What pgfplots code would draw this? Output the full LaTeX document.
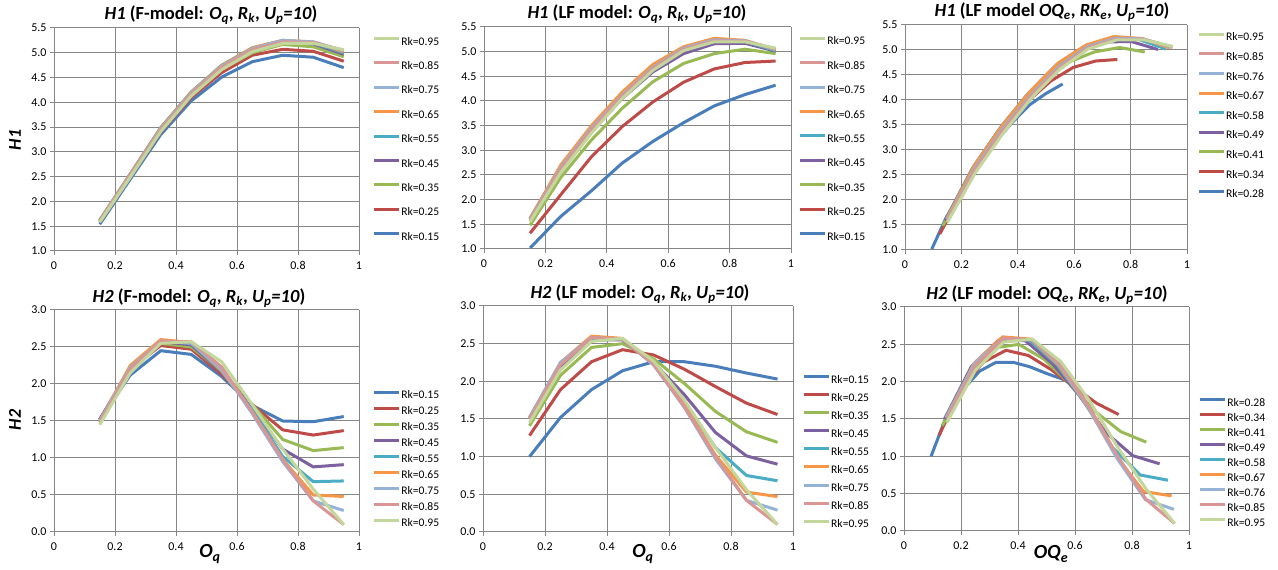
\documentclass[border=0pt]{standalone}
\usepackage{fontspec}
\setmainfont{Carlito}
\usepackage{pgfplots}
\usepackage{pgfplotstable}
\pgfplotsset{compat=1.18}

\definecolor{c1}{RGB}{74,126,187}
\definecolor{c2}{RGB}{190,75,72}
\definecolor{c3}{RGB}{152,185,84}
\definecolor{c4}{RGB}{125,96,160}
\definecolor{c5}{RGB}{75,172,198}
\definecolor{c6}{RGB}{247,150,70}
\definecolor{c7}{RGB}{149,179,215}
\definecolor{c8}{RGB}{217,150,148}
\definecolor{c9}{RGB}{195,214,155}
\definecolor{gridgray}{RGB}{134,134,134}

% F-model: a = H1, b = H2
\pgfplotstableread{
oq   a1   a2   a3   a4   a5   a6   a7   a8   a9   b1   b2   b3   b4   b5   b6   b7   b8   b9
0.15 1.54 1.58 1.60 1.62 1.62 1.62 1.61 1.60 1.58 1.52 1.52 1.50 1.52 1.50 1.50 1.50 1.48 1.45
0.25 2.45 2.50 2.52 2.55 2.55 2.55 2.53 2.52 2.49 2.12 2.20 2.20 2.22 2.22 2.25 2.22 2.20 2.15
0.35 3.35 3.40 3.45 3.48 3.49 3.48 3.46 3.44 3.41 2.45 2.52 2.55 2.57 2.58 2.60 2.58 2.58 2.55
0.45 4.03 4.10 4.15 4.20 4.21 4.20 4.18 4.16 4.13 2.40 2.47 2.50 2.53 2.55 2.56 2.55 2.57 2.57
0.55 4.51 4.60 4.67 4.73 4.75 4.74 4.72 4.70 4.66 2.10 2.13 2.17 2.16 2.17 2.18 2.20 2.23 2.30
0.65 4.82 4.95 5.00 5.08 5.10 5.10 5.08 5.06 5.02 1.71 1.72 1.72 1.68 1.65 1.62 1.60 1.62 1.72
0.75 4.95 5.07 5.17 5.22 5.25 5.25 5.25 5.22 5.19 1.50 1.38 1.25 1.12 1.02 0.98 0.95 0.98 1.12
0.85 4.91 5.03 5.12 5.18 5.20 5.22 5.22 5.21 5.19 1.49 1.31 1.10 0.88 0.68 0.50 0.42 0.42 0.58
0.95 4.70 4.83 4.92 4.97 5.00 5.02 5.04 5.05 5.06 1.56 1.37 1.14 0.91 0.69 0.48 0.29 0.10 0.10
}\F

% LF model: e = OQe, a = H1, b = H2
\pgfplotstableread{
oq   e1    e2    e3    e4    e5    e6    e7    e8    e9    a1   a2   a3   a4   a5   a6   a7   a8   a9   b1   b2   b3   b4   b5   b6   b7   b8   b9
0.15 0.095 0.123 0.134 0.142 0.146 0.148 0.150 0.150 0.150 1.02 1.32 1.48 1.59 1.62 1.62 1.60 1.58 1.55 1.00 1.28 1.41 1.50 1.52 1.52 1.52 1.50 1.45
0.25 0.147 0.199 0.224 0.236 0.244 0.247 0.249 0.250 0.250 1.66 2.10 2.45 2.60 2.68 2.70 2.65 2.62 2.55 1.52 1.89 2.08 2.20 2.23 2.25 2.25 2.22 2.15
0.35 0.206 0.278 0.313 0.330 0.341 0.346 0.349 0.350 0.350 2.18 2.87 3.21 3.38 3.47 3.50 3.45 3.42 3.35 1.89 2.26 2.45 2.55 2.57 2.60 2.58 2.58 2.53
0.45 0.265 0.358 0.403 0.425 0.439 0.445 0.449 0.450 0.450 2.74 3.48 3.85 4.05 4.14 4.18 4.12 4.10 4.05 2.14 2.42 2.50 2.55 2.56 2.57 2.56 2.56 2.57
0.55 0.323 0.437 0.492 0.519 0.536 0.543 0.548 0.550 0.550 3.18 3.98 4.39 4.59 4.70 4.74 4.68 4.66 4.62 2.26 2.35 2.30 2.25 2.23 2.22 2.22 2.23 2.27
0.65 0.382 0.517 0.582 0.614 0.634 0.642 0.648 0.650 0.650 3.56 4.38 4.76 4.96 5.06 5.10 5.07 5.05 5.02 2.26 2.16 1.97 1.82 1.72 1.68 1.65 1.66 1.75
0.75 0.441 0.596 0.671 0.708 0.731 0.741 0.748 0.750 0.750 3.90 4.65 4.96 5.16 5.24 5.27 5.24 5.22 5.20 2.20 1.93 1.60 1.32 1.12 1.02 0.97 1.00 1.12
0.85 0.500 0.676 0.761 0.802 0.829 0.840 0.847 0.850 0.850 4.13 4.78 5.05 5.17 5.21 5.23 5.22 5.21 5.20 2.11 1.71 1.33 1.01 0.75 0.53 0.42 0.42 0.56
0.95 0.559 0.753 0.850 0.897 0.926 0.939 0.947 0.950 0.950 4.32 4.81 4.96 5.01 5.02 5.04 5.05 5.06 5.07 2.03 1.56 1.19 0.90 0.68 0.47 0.29 0.10 0.10
}\LF

\pgfplotscreateplotcyclelist{xl}{{c1},{c2},{c3},{c4},{c5},{c6},{c7},{c8},{c9}}

\pgfplotsset{
  panel/.style={
    scale only axis, xmin=0, xmax=1, xtick={0,0.2,0.4,0.6,0.8,1},
    axis lines=left, axis line style={gridgray, line width=1pt, -},
    grid=major, grid style={gridgray, line width=1pt},
    tick align=outside, major tick length=4pt, tick style={gridgray, line width=1pt},
    ticklabel style={font=\fontsize{12}{14}\selectfont},
    xticklabel style={yshift=-3pt, /pgf/number format/.cd, fixed, precision=1, assume math mode=true},
    yticklabel style={/pgf/number format/.cd, fixed, fixed zerofill, precision=1, assume math mode=true},
    cycle list name=xl,
    every axis plot/.append style={line width=3pt, line join=round, mark=none},
    legend image code/.code={\draw[##1] (0pt,3.8pt) -- (25pt,3.8pt);},
    legend cell align=left,
    legend style={draw=none, fill=none, inner sep=0pt, column sep=0pt,
      font=\fontsize{11.6}{13}\selectfont,
      nodes={inner sep=1pt, text height=8pt, text depth=2.5pt}},
  },
  toprow/.style={panel, ymin=1, ymax=5.5, ytick={1,1.5,2,2.5,3,3.5,4,4.5,5,5.5}, reverse legend},
  botrow/.style={panel, ymin=0, ymax=3, ytick={0,0.5,1,1.5,2,2.5,3}},
}

\newcommand{\tfont}{\fontsize{18.5}{20}\selectfont\bfseries}
\newcommand{\lfont}{\fontsize{20}{22}\selectfont\bfseries\itshape}

\begin{document}
\begin{tikzpicture}
\path[use as bounding box] (0,0) rectangle (1278pt,570pt);

% H1, F-model
\begin{axis}[toprow, at={(54pt,319pt)}, width=305pt, height=223pt,
  legend style={at={(1.043,0.965)}, anchor=north west, row sep=11.9pt}]
  \pgfplotsinvokeforeach{1,...,9}{\addplot table[x=oq, y=a#1]{\F};}
  \legend{Rk=0.15,Rk=0.25,Rk=0.35,Rk=0.45,Rk=0.55,Rk=0.65,Rk=0.75,Rk=0.85,Rk=0.95}
\end{axis}

% H1, LF model
\begin{axis}[toprow, at={(484pt,321pt)}, width=307pt, height=222pt,
  legend style={at={(1.023,0.961)}, anchor=north west, row sep=11.9pt}]
  \pgfplotsinvokeforeach{1,...,9}{\addplot table[x=oq, y=a#1]{\LF};}
  \legend{Rk=0.15,Rk=0.25,Rk=0.35,Rk=0.45,Rk=0.55,Rk=0.65,Rk=0.75,Rk=0.85,Rk=0.95}
\end{axis}

% H1, LF model OQe
\begin{axis}[toprow, at={(905pt,320pt)}, width=282pt, height=225pt,
  legend style={at={(1.035,0.970)}, anchor=north west, row sep=7.1pt}]
  \pgfplotsinvokeforeach{1,...,9}{\addplot table[x=e#1, y=a#1]{\LF};}
  \legend{Rk=0.28,Rk=0.34,Rk=0.41,Rk=0.49,Rk=0.58,Rk=0.67,Rk=0.76,Rk=0.85,Rk=0.95}
\end{axis}

% H2, F-model
\begin{axis}[botrow, at={(54pt,38pt)}, width=305pt, height=222pt,
  legend style={at={(1.043,0.641)}, anchor=north west, row sep=3.5pt}]
  \pgfplotsinvokeforeach{1,...,9}{\addplot table[x=oq, y=b#1]{\F};}
  \legend{Rk=0.15,Rk=0.25,Rk=0.35,Rk=0.45,Rk=0.55,Rk=0.65,Rk=0.75,Rk=0.85,Rk=0.95}
\end{axis}

% H2, LF model
\begin{axis}[botrow, at={(483pt,38pt)}, width=310pt, height=226pt,
  legend style={at={(1.029,0.700)}, anchor=north west, row sep=5.6pt}]
  \pgfplotsinvokeforeach{1,...,9}{\addplot table[x=oq, y=b#1]{\LF};}
  \legend{Rk=0.15,Rk=0.25,Rk=0.35,Rk=0.45,Rk=0.55,Rk=0.65,Rk=0.75,Rk=0.85,Rk=0.95}
\end{axis}

% H2, LF model OQe
\begin{axis}[botrow, at={(904pt,39pt)}, width=285pt, height=224pt,
  legend style={at={(1.032,0.599)}, anchor=north west, row sep=2.5pt}]
  \pgfplotsinvokeforeach{1,...,9}{\addplot table[x=e#1, y=b#1]{\LF};}
  \legend{Rk=0.28,Rk=0.34,Rk=0.41,Rk=0.49,Rk=0.58,Rk=0.67,Rk=0.76,Rk=0.85,Rk=0.95}
\end{axis}

% titles
\node at (211pt,555pt) {\tfont\textit{H1} (F-model: \textit{O\textsubscript{q}}, \textit{R\textsubscript{k}}, \textit{U\textsubscript{p}=10})};
\node at (637pt,556pt) {\tfont\textit{H1} (LF model: \textit{O\textsubscript{q}}, \textit{R\textsubscript{k}}, \textit{U\textsubscript{p}=10})};
\node at (1052pt,558pt) {\tfont\textit{H1} (LF model \textit{OQ\textsubscript{e}}, \textit{RK\textsubscript{e}}, \textit{U\textsubscript{p}=10})};
\node at (199pt,272pt) {\tfont\textit{H2} (F-model: \textit{O\textsubscript{q}}, \textit{R\textsubscript{k}}, \textit{U\textsubscript{p}=10})};
\node at (640pt,276pt) {\tfont\textit{H2} (LF model: \textit{O\textsubscript{q}}, \textit{R\textsubscript{k}}, \textit{U\textsubscript{p}=10})};
\node at (1047pt,275pt) {\tfont\textit{H2} (LF model: \textit{OQ\textsubscript{e}}, \textit{RK\textsubscript{e}}, \textit{U\textsubscript{p}=10})};

% axis labels
\node[rotate=90] at (15pt,430pt) {\fontsize{18}{20}\selectfont\bfseries\itshape H1};
\node[rotate=90] at (15pt,150pt) {\fontsize{18}{20}\selectfont\bfseries\itshape H2};
\node at (210pt,16pt) {\lfont O\textsubscript{q}};
\node at (643pt,16pt) {\lfont O\textsubscript{q}};
\node at (1051pt,16pt) {\lfont OQ\textsubscript{e}};
\end{tikzpicture}
\end{document}
